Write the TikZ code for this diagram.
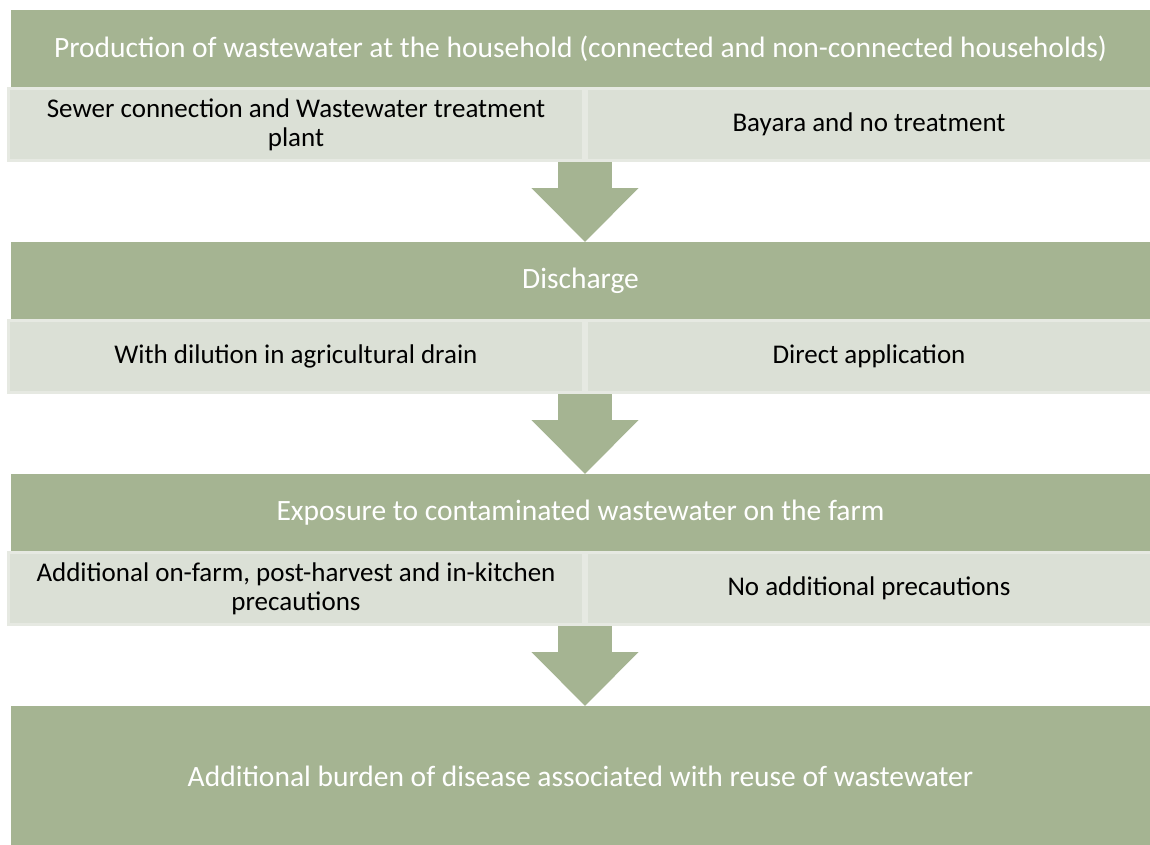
\documentclass[tikz,border=0pt]{standalone}
\usepackage{fontspec}
\setmainfont{Carlito}
\usepackage{tikz}
\usetikzlibrary{positioning, arrows.meta}
\definecolor{sagegreen}{HTML}{A5B492}
\definecolor{sagelight}{HTML}{DBE0D6}
\definecolor{sageedge}{HTML}{E6E9E2}

\begin{document}
\begin{tikzpicture}[x=1pt, y=-1pt]

\tikzstyle{header} = [rectangle, fill=sagegreen, text=white, minimum width=1139pt, minimum height=77pt, inner sep=0pt, outer sep=0pt, font=\fontsize{29.5}{32}\selectfont]
\tikzstyle{option} = [rectangle, fill=sagelight, draw=sageedge, line width=3pt, minimum height=72pt, inner sep=0pt, align=center, font=\fontsize{27}{29}\selectfont]
\tikzstyle{flow} = [line width=54pt, draw=sagegreen, -{Triangle[length=54pt, width=104pt]}]

\useasboundingbox (0,0) rectangle (1150,845);

% Make nodes
\node (prod) [header, anchor=north west] at (11,10) {Production of wastewater at the household (connected and non-connected households)};
\node (sewer) [option, minimum width=575pt, below=0pt of prod.south west, anchor=north west, xshift=-4pt] {Sewer connection and Wastewater treatment\\plant};
\node (bayara) [option, minimum width=565pt, right=0pt of sewer] {Bayara and no treatment};

\node (discharge) [header, below=80pt of sewer.south west, anchor=north west, xshift=4pt] {Discharge};
\node (dilution) [option, minimum width=575pt, below=0pt of discharge.south west, anchor=north west, xshift=-4pt] {With dilution in agricultural drain};
\node (direct) [option, minimum width=565pt, right=0pt of dilution] {Direct application};

\node (exposure) [header, below=80pt of dilution.south west, anchor=north west, xshift=4pt] {Exposure to contaminated wastewater on the farm};
\node (extra) [option, minimum width=575pt, below=0pt of exposure.south west, anchor=north west, xshift=-4pt] {Additional on-farm, post-harvest and in-kitchen\\precautions};
\node (noextra) [option, minimum width=565pt, right=0pt of extra] {No additional precautions};

\node (burden) [header, minimum height=140pt, below=80pt of extra.south west, anchor=north west, xshift=4pt] {Additional burden of disease associated with reuse of wastewater};

% Connect nodes
\draw[flow] (sewer.south east) -- (sewer.south east |- discharge.north);
\draw[flow] (dilution.south east) -- (dilution.south east |- exposure.north);
\draw[flow] (extra.south east) -- (extra.south east |- burden.north);

\end{tikzpicture}
\end{document}
